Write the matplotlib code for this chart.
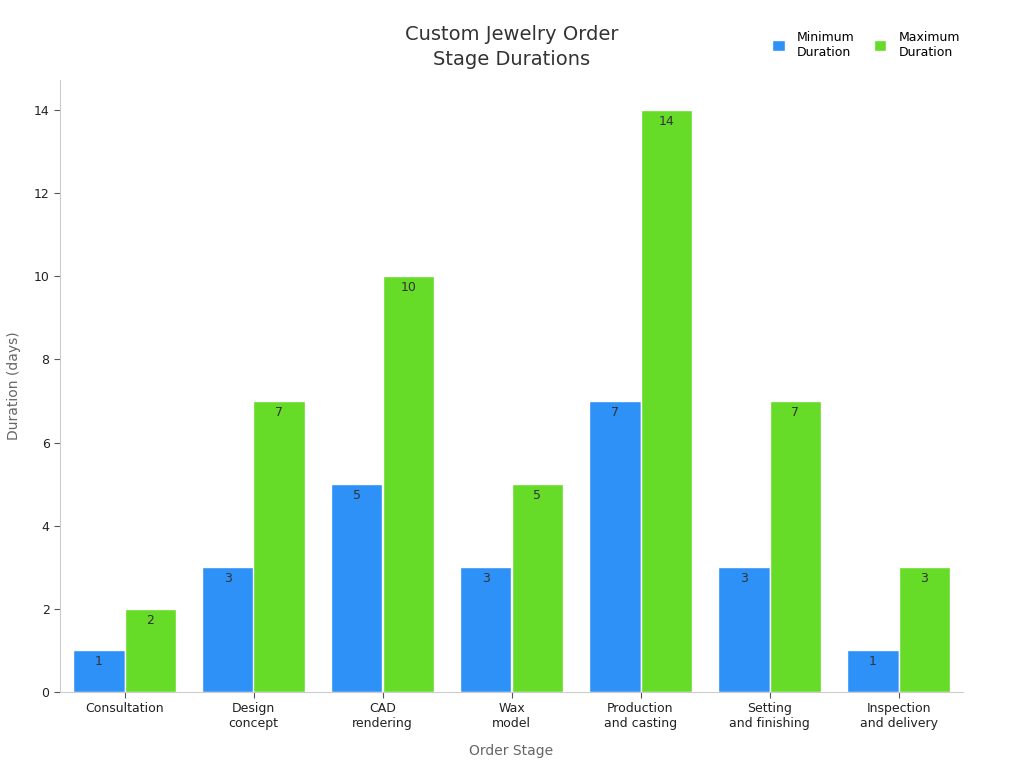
import matplotlib
matplotlib.use("Agg")
import matplotlib.pyplot as plt
import numpy as np

stages = ["Consultation", "Design\nconcept", "CAD\nrendering", "Wax\nmodel",
          "Production\nand casting", "Setting\nand finishing", "Inspection\nand delivery"]
min_days = [1, 3, 5, 3, 7, 3, 1]
max_days = [2, 7, 10, 5, 14, 7, 3]

blue = "#2E91F7"
green = "#66DB28"

fig = plt.figure(figsize=(10.24, 7.68), dpi=100)
ax = fig.add_axes([60/1024, 76/768, 903/1024, 612/768])

x = np.arange(len(stages))
w = 0.4
b1 = ax.bar(x - w/2, min_days, w, color=blue, edgecolor="white", linewidth=1, label="Minimum\nDuration")
b2 = ax.bar(x + w/2, max_days, w, color=green, edgecolor="white", linewidth=1, label="Maximum\nDuration")

for bars, vals in [(b1, min_days), (b2, max_days)]:
    for r, v in zip(bars, vals):
        ax.annotate(str(v), (r.get_x() + r.get_width()/2, v), xytext=(0, -3.5),
                    textcoords="offset points", ha="center", va="top",
                    fontsize=9, color="#333333")

ax.set_xlim(-0.5, 6.5)
ax.set_ylim(0, 14.72)
ax.set_xticks(x)
ax.set_xticklabels(stages, fontsize=9, color="#222222")
ax.set_yticks(range(0, 15, 2))
ax.tick_params(axis="y", labelsize=9, colors="#222222", length=4, color="#555555")
ax.tick_params(axis="x", length=4, color="#555555")
for s in ["top", "right"]:
    ax.spines[s].set_visible(False)
for s in ["left", "bottom"]:
    ax.spines[s].set_color("#cccccc")

ax.set_xlabel("Order Stage", fontsize=10, color="#666666", labelpad=10)
ax.set_ylabel("Duration (days)", fontsize=10, color="#666666", labelpad=9)

fig.text(512/1024, 1 - 47/768, "Custom Jewelry Order\nStage Durations", ha="center", va="center",
         fontsize=14, color="#333333", linespacing=1.45)

fig.legend(handles=[b1, b2], loc="center", bbox_to_anchor=(866/1024, 1 - 45/768), ncol=2,
           frameon=False, fontsize=9, handlelength=1.0, handleheight=1.0,
           columnspacing=1.5, handletextpad=1.0)

fig.savefig("out.png", dpi=100)
